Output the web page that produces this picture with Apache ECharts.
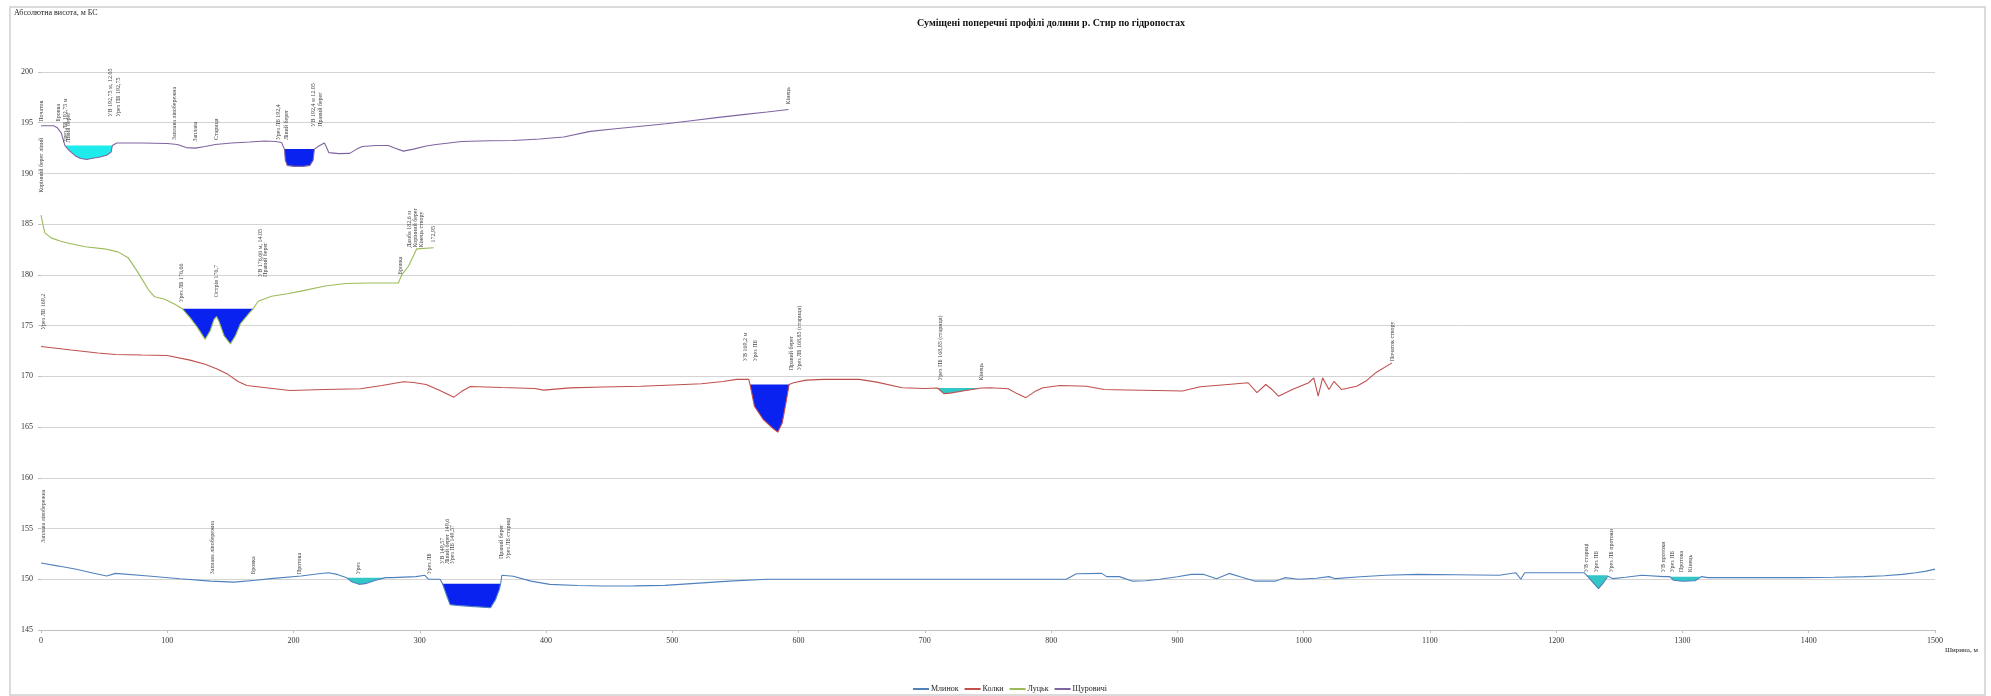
<!DOCTYPE html>
<html><head><meta charset="utf-8">
<script src="https://cdn.jsdelivr.net/npm/echarts@6/dist/echarts.min.js"></script>
<style>html,body{margin:0;padding:0;background:#fff}#c{width:1991px;height:696px}</style>
</head><body><div id="c"></div>
<script>
// ---- Data (width, m ; absolute height, m BS) ----
const stationNames = ['Млинок', 'Колки', 'Луцьк', 'Щуровичі'];

const mlynok = [[0,151.6],[14,151.3],[28,150.98],[40,150.65],[52,150.32],[59,150.58],[85,150.32],[110,150.05],[134,149.82],[153,149.72],[170,149.9],[182,150.06],[206,150.32],[220,150.55],[227.5,150.65],[234.7,150.48],[242,150.16],[246,149.75],[252,149.5],[258,149.6],[265,149.9],[273,150.16],[278,150.16],[297,150.26],[304,150.39],[307,150.0],[316,150.0],[318,149.57],[321,148.5],[324,147.5],[330,147.42],[340,147.33],[350,147.25],[356,147.2],[360,148.0],[363,149.0],[364,149.57],[365,150.4],[374,150.3],[388,149.82],[403,149.5],[425,149.38],[446,149.33],[470,149.35],[494,149.4],[518,149.6],[545,149.82],[575,150.0],[614,150.0],[680,150.0],[743,150.0],[812,150.0],[820,150.55],[840,150.58],[844,150.26],[854,150.26],[864,149.82],[875,149.85],[886,150.0],[900,150.25],[911,150.48],[921,150.48],[931,150.06],[941,150.58],[951,150.2],[961,149.82],[978,149.82],[985,150.16],[996,150.0],[1010,150.1],[1020,150.26],[1025,150.06],[1045,150.25],[1065,150.4],[1090,150.48],[1120,150.45],[1155,150.4],[1168,150.65],[1172,150.0],[1175,150.65],[1200,150.65],[1222,150.65],[1224,150.4],[1229,149.7],[1233.5,149.07],[1237,149.6],[1241,150.3],[1245,150.06],[1255,150.2],[1268,150.4],[1285,150.26],[1290,150.26],[1293,149.9],[1300,149.8],[1310,149.85],[1315,150.26],[1320,150.16],[1350,150.16],[1394,150.16],[1420,150.2],[1444,150.26],[1460,150.35],[1474,150.48],[1485,150.65],[1493,150.8],[1500,151.0]];

const kolky = [[0,172.95],[24,172.6],[45,172.3],[59,172.16],[80,172.1],[100,172.06],[118,171.6],[130,171.2],[139,170.75],[148,170.2],[156,169.5],[163,169.1],[180,168.85],[197,168.6],[225,168.7],[253,168.78],[270,169.1],[287,169.47],[295,169.4],[305,169.2],[316,168.6],[327,167.95],[333,168.5],[340,169.0],[365,168.9],[391,168.8],[398,168.64],[419,168.87],[445,168.95],[475,169.03],[500,169.15],[523,169.27],[540,169.5],[551,169.7],[560.5,169.7],[561.5,169.2],[565,167.06],[572,165.75],[579,164.94],[583.5,164.5],[587,165.4],[590,167.4],[592.5,169.2],[596,169.37],[606,169.63],[620,169.7],[648,169.7],[662,169.43],[682,168.88],[700,168.8],[710,168.85],[715,168.3],[720,168.35],[730,168.55],[740,168.75],[745,168.85],[752,168.88],[766,168.78],[773,168.3],[780,167.9],[787,168.5],[793.5,168.88],[807,169.1],[828,169.03],[842,168.7],[860,168.65],[884,168.6],[904,168.55],[918,168.97],[940,169.2],[956,169.37],[963,168.4],[970,169.2],[975,168.7],[980,168.05],[991,168.7],[1004,169.37],[1008,169.85],[1011.5,168.05],[1015,169.85],[1020,168.7],[1024,169.5],[1030,168.7],[1042,169.03],[1050,169.6],[1057,170.35],[1070,171.33]];

const lutsk = [[0,185.9],[3,184.15],[8,183.65],[15,183.35],[21,183.15],[35,182.77],[50,182.57],[61,182.27],[69,181.7],[77,180.2],[85,178.56],[90,177.84],[98,177.6],[106,177.1],[112,176.66],[118,175.8],[124,174.8],[130,173.65],[134,174.5],[137,175.6],[139,175.9],[141,175.4],[145,174.0],[150,173.2],[154,174.0],[158,175.2],[164,176.1],[168,176.66],[172,177.4],[182.6,177.9],[195,178.15],[206,178.4],[225,178.9],[241,179.15],[259,179.2],[283,179.2],[285.7,180.0],[291,180.85],[297.6,182.57],[311,182.67]];

const shchurovychi = [[0,194.7],[10,194.7],[13,194.5],[16,194.0],[19,192.75],[22,192.3],[27,191.75],[31,191.5],[36,191.37],[41,191.5],[46,191.6],[52,191.8],[55.5,192.1],[56.5,192.75],[60,193.0],[80,193.0],[100,192.95],[108,192.85],[115,192.55],[122,192.5],[130,192.65],[138,192.85],[151,193.0],[165,193.1],[177,193.2],[186,193.15],[190.5,193.05],[192.8,192.4],[193.5,191.3],[195,190.8],[200,190.7],[208,190.7],[213,190.8],[215.5,191.3],[216.5,192.4],[220,192.7],[224.5,193.0],[226,192.6],[228,192.05],[236,191.95],[244.5,191.98],[250,192.4],[254.5,192.65],[265,192.75],[275,192.75],[280,192.5],[287,192.2],[295,192.4],[305,192.7],[313,192.85],[333,193.15],[355,193.22],[374,193.25],[395,193.4],[414,193.6],[435,194.15],[455,194.4],[475,194.65],[495,194.9],[515,195.2],[535,195.5],[556,195.8],[575,196.05],[592,196.3]];

// water bodies: station index, from, to, water level, kind
const waterStation = [3, 3, 2, 1, 1, 0, 0, 0, 0];
const waterFrom    = [19, 192.8, 112, 561.5, 710, 242, 318, 1224, 1290];
const waterTo      = [56.5, 216.5, 168, 592.5, 745, 273, 364, 1241, 1315];
const waterLevel   = [192.75, 192.4, 176.66, 169.2, 168.85, 150.16, 149.57, 150.4, 150.26];
const waterKind    = ['cyan', 'blue', 'blue', 'blue', 'teal', 'teal', 'blue', 'teal', 'teal'];

// point annotations: width, base height, text
const annX = [0, 0, 13.5, 19, 22, 55, 61, 106, 122, 139, 188, 194, 216, 221, 592,
              111, 139, 174, 178, 284.6, 292, 296.5, 301, 311,
              1.6, 558, 566, 594, 601, 712, 745, 1070,
              1.6, 136, 168, 204.6, 251, 308, 318, 322, 326, 365, 370, 1224, 1232, 1244, 1285, 1292, 1299, 1306, 1499];
const annH = [195.1, 188.1, 195.1, 193.05, 193.05, 195.6, 195.6, 193.3, 193.15, 193.3, 193.3, 193.3, 194.6, 194.6, 196.8,
              177.3, 177.8, 179.8, 179.8, 180.05, 182.7, 182.7, 182.7, 183.2,
              174.6, 171.5, 171.5, 170.6, 170.6, 169.6, 169.6, 171.5,
              153.6, 150.5, 150.5, 150.5, 150.5, 150.5, 151.5, 151.5, 151.5, 152.0, 152.0, 150.7, 150.7, 150.7, 150.7, 150.7, 150.7, 150.7, 152.7];
const annText = ['Початок', 'Корінний берег лівий', 'Бровка', 'Урез ЛБ 192,75 м', 'Лівий берег',
  'УВ 192,75 м, 12.05', 'Урез ПБ 192,75', 'Заплава лівобережна', 'Заплава', 'Стариця',
  'Урез ЛБ 192,4', 'Лівий берег', 'УВ 192,4 м 12.05', 'Правий берег', 'Кінець',
  'Урез ЛБ 176,66', 'Острів 176,7', 'УВ 176,66 м, 14.05', 'Правий берег', 'Бровка',
  'Дамба 182,6 м', 'Корінний берег', 'Кінець створу',
  '172,95', 'Урез ЛБ 169,2', 'УВ 169,2 м', 'Урез ПБ', 'Правий берег', 'Урез ЛБ 168,85 (стариця)', 'Урез ПБ 168,85 (стариця)', 'Кінець',
  'Початок створу', 'Заплава лівобережна', 'Заплава лівобережна', 'Бровка', 'Протока', 'Урез', 'Урез ЛБ', 'УВ 149,57', 'Лівий берег 149,6',
  'Урез ПБ 149,57', 'Правий берег',
  'Урез ЛБ стариці', 'УВ стариці', 'Урез ПБ', 'Урез ЛБ протоки', 'УВ протоки', 'Урез ПБ', 'Протока', 'Кінець'];
const annStation = [3,3,3,3,3,3,3,3,3,3,3,3,3,3,3, 2,2,2,2,2,2,2,2,2, 1,1,1,1,1,1,1,1, 0,0,0,0,0,0,0,0,0,0,0,0,0,0,0,0,0,0,0];

// axis ticks
const xMin = 0, xMax = 1500, xStep = 100;
const yMin = 145, yMax = 200, yStep = 5;

// ---- Styles ----
const lineColors = ['#4F81BD', '#C0504D', '#9BBB59', '#8064A2'];
const waterColors = { cyan: '#1EEBEB', blue: '#0A22F0', teal: '#33C6C6' };
const profiles = [mlynok, kolky, lutsk, shchurovychi];
const serif = 'Liberation Serif';

const chart = echarts.init(document.getElementById('c'), null, { renderer: 'canvas' });

function waterPolygon(i) {
  const prof = profiles[waterStation[i]];
  const lv = waterLevel[i], a = waterFrom[i], b = waterTo[i];
  const pts = [[a, lv]];
  prof.forEach(p => { if (p[0] > a && p[0] < b) pts.push([p[0], Math.min(p[1], lv)]); });
  pts.push([b, lv]);
  return pts;
}

const series = [];
series.push({
  type: 'custom', name: 'water', silent: true, z: 1,
  data: waterFrom.map((a, i) => [a, waterLevel[i], i]),
  renderItem: function (params, api) {
    const i = api.value(2);
    const pts = waterPolygon(i).map(p => api.coord(p));
    return { type: 'polygon', shape: { points: pts }, style: { fill: waterColors[waterKind[i]], stroke: null } };
  }
});
stationNames.forEach((n, k) => {
  series.push({
    type: 'line', name: n, data: profiles[k], showSymbol: false, symbol: 'none', z: 3,
    lineStyle: { color: lineColors[k], width: 1.1 }, itemStyle: { color: lineColors[k] },
    animation: false
  });
});
series.push({
  type: 'custom', name: 'ann', silent: true, z: 4, clip: false,
  data: annX.map((x, i) => [x, annH[i], i]),
  renderItem: function (params, api) {
    const i = api.value(2);
    const p = api.coord([api.value(0), api.value(1)]);
    return { type: 'text', x: p[0], y: p[1], rotation: Math.PI / 2,
      style: { text: annText[i], fontSize: 6, fontFamily: serif, fill: '#444', align: 'left', verticalAlign: 'middle' } };
  }
});

chart.setOption({
  animation: false,
  backgroundColor: '#fff',
  grid: { left: 41, right: 56, top: 72, bottom: 66, containLabel: false },
  xAxis: {
    type: 'value', min: xMin, max: xMax, interval: xStep,
    axisLine: { show: true, lineStyle: { color: '#BFBFBF' } },
    axisTick: { show: true, length: 3, lineStyle: { color: '#BFBFBF' } },
    axisLabel: { fontSize: 8, fontFamily: serif, color: '#333', margin: 7, formatter: v => String(v) },
    splitLine: { show: false }
  },
  yAxis: {
    type: 'value', min: yMin, max: yMax, interval: yStep,
    axisLine: { show: false },
    axisTick: { show: true, length: 3, lineStyle: { color: '#BFBFBF' } },
    axisLabel: { fontSize: 8, fontFamily: serif, color: '#333', margin: 8, formatter: v => String(v) },
    splitLine: { show: true, lineStyle: { color: '#D4D4D4', width: 1 } }
  },
  legend: {
    data: stationNames, left: 908, top: 680, itemGap: 6, itemWidth: 16, itemHeight: 2, icon: 'rect',
    textStyle: { fontSize: 8, fontFamily: serif, color: '#222', padding: [0, 0, 0, -3] }
  },
  graphic: [
    { type: 'rect', shape: { x: 10, y: 7, width: 1975, height: 688 }, style: { fill: null, stroke: '#CFCFCF', lineWidth: 1.5 }, silent: true },
    { type: 'text', x: 1051, y: 18, style: { text: 'Суміщені поперечні профілі долини р. Стир по гідропостах', fontSize: 10, fontWeight: 'bold', fontFamily: serif, fill: '#111', align: 'center' } },
    { type: 'text', x: 14, y: 9, style: { text: 'Абсолютна висота, м БС', fontSize: 8, fontFamily: serif, fill: '#222' } },
    { type: 'text', x: 1945, y: 647, style: { text: 'Ширина, м', fontSize: 7, fontFamily: serif, fill: '#222' } }
  ],
  series: series
});
</script></body></html>
